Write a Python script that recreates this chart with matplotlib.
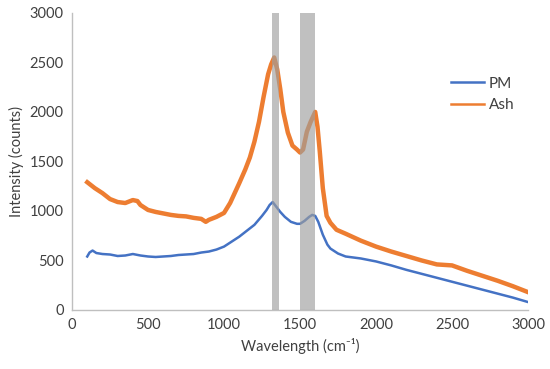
import matplotlib
matplotlib.use("Agg")
import matplotlib.pyplot as plt
from matplotlib.lines import Line2D

plt.rcParams['font.family'] = ['Lato', 'DejaVu Sans']

# Ash spectrum
ash_x = [100, 150, 200, 250, 300, 350, 400, 430, 450, 500, 550, 600, 650, 700, 750,
         800, 850, 880, 900, 950, 1000, 1040, 1070, 1100, 1140, 1170, 1200, 1230, 1260,
         1290, 1310, 1330, 1350, 1370, 1390, 1420, 1450, 1480, 1500, 1520, 1545, 1570,
         1600, 1615, 1630, 1650, 1675, 1700, 1740, 1800, 1900, 2000, 2100, 2200, 2300,
         2400, 2500, 2600, 2700, 2800, 2900, 3000]
ash_y = [1290, 1230, 1180, 1120, 1090, 1080, 1110, 1100, 1060, 1010, 990, 975, 960, 950, 945,
         930, 920, 890, 910, 940, 980, 1080, 1180, 1280, 1420, 1540, 1700, 1900, 2150,
         2380, 2480, 2550, 2430, 2230, 2000, 1790, 1660, 1620, 1590, 1620, 1800, 1900,
         2000, 1850, 1600, 1230, 950, 880, 810, 770, 700, 640, 590, 545, 500,
         460, 450, 395, 345, 295, 240, 180]

# PM spectrum
pm_x = [100, 115, 135, 160, 200, 250, 300, 350, 400, 450, 500, 550, 600, 650, 700, 750,
        800, 850, 900, 950, 1000, 1050, 1100, 1150, 1200, 1250, 1280, 1300, 1320, 1340,
        1370, 1400, 1440, 1480, 1500, 1530, 1560, 1580, 1600, 1620, 1650, 1680, 1700,
        1750, 1800, 1900, 2000, 2100, 2200, 2300, 2400, 2500, 2600, 2700, 2800, 2900, 3000]
pm_y = [540, 580, 600, 575, 565, 560, 545, 550, 565, 550, 540, 535, 540, 545, 555, 560,
        565, 580, 590, 610, 640, 690, 740, 800, 860, 950, 1010, 1060, 1090, 1050,
        990, 940, 890, 870, 870, 900, 940, 960, 950, 890, 760, 660, 620,
        570, 540, 520, 490, 450, 405, 365, 325, 285, 245, 205, 165, 125, 80]

# highlighted bands (D and G)
bands = [(1318, 1360), (1500, 1600)]

fig = plt.figure(figsize=(5.5, 3.69), dpi=100)
ax = fig.add_axes([0.131, 0.16, 0.829, 0.805])

ax.plot(pm_x, pm_y, color='#4472C4', lw=1.8)
ax.plot(ash_x, ash_y, color='#ED7D31', lw=3.2)

for lo, hi in bands:
    ax.axvspan(lo, hi, color='#9E9E9E', alpha=0.65, lw=0, zorder=5)

ax.set_xlim(0, 3000)
ax.set_ylim(0, 3000)
ax.set_xticks(range(0, 3001, 500))
ax.set_yticks(range(0, 3001, 500))

for s in ['top', 'right']:
    ax.spines[s].set_visible(False)
for s in ['left', 'bottom']:
    ax.spines[s].set_color('#BFBFBF')
    ax.spines[s].set_linewidth(1.0)
ax.tick_params(length=0, labelsize=10.5, labelcolor='#404040', pad=6)

ax.set_xlabel('Wavelength (cm⁻¹)', fontsize=10.5, color='#404040')
ax.set_ylabel('Intensity (counts)', fontsize=10.5, color='#404040')

handles = [Line2D([], [], color='#4472C4', lw=1.8),
           Line2D([], [], color='#ED7D31', lw=1.8)]
ax.legend(handles, ['PM', 'Ash'], loc='center left', bbox_to_anchor=(0.80, 0.725),
          frameon=False, fontsize=11, handlelength=2.2, labelcolor='#404040',
          handletextpad=0.3)

fig.savefig('out.png', dpi=100)
